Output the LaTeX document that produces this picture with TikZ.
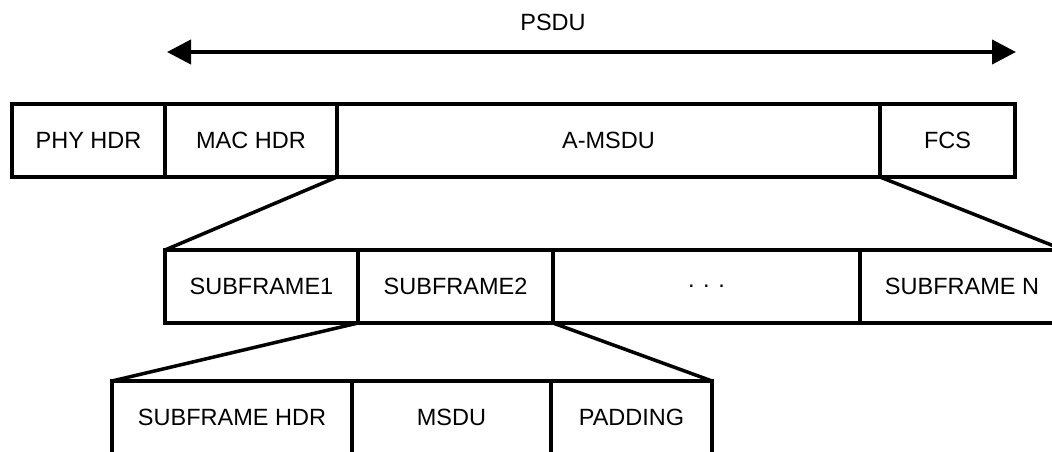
\documentclass[tikz,border=0pt]{standalone}
\usepackage{fontspec}
\setmainfont{Liberation Sans}
\usetikzlibrary{arrows.meta}
\begin{document}
\begin{tikzpicture}[x=1pt,y=-1pt,
  field/.style={draw=black,line width=3.5pt,fill=white,anchor=north west,
    inner sep=0pt,outer sep=0pt,minimum height=73pt,
    font=\fontsize{23.5}{28}\selectfont},
  link/.style={line width=3.5pt,line cap=round},
  span/.style={line width=4pt,{Triangle[length=24pt,width=24pt]}-{Triangle[length=24pt,width=24pt]}}]
\useasboundingbox (0,0) rectangle (1052,451);
\clip (0,0) rectangle (1052,451);

% frame length arrow
\coordinate (psduL) at (167,52);
\coordinate (psduR) at (1016,52);
\draw[span] (psduL) -- (psduR);
\node[font=\fontsize{23.5}{28}\selectfont] (psdu) at (553,22) {PSDU};

% MPDU fields
\node[field,minimum width=153pt] (phy) at (12,104) {PHY HDR};
\node[field,minimum width=172pt] (mac) at (165,104) {MAC HDR};
\node[field,minimum width=543pt] (amsdu) at (337,104) {A-MSDU};
\node[field,minimum width=135pt] (fcs) at (880,104) {FCS};

% A-MSDU subframes
\node[field,minimum width=193pt] (sf1) at (165,250) {SUBFRAME1};
\node[field,minimum width=195pt] (sf2) at (358,250) {SUBFRAME2};
\node[field,minimum width=307pt] (dots) at (553,250) {. . .};
\node[field,minimum width=204pt] (sfn) at (860,250) {SUBFRAME N};

% subframe contents
\node[field,minimum width=240pt] (sfhdr) at (112,381) {SUBFRAME HDR};
\node[field,minimum width=199pt] (msdu) at (352,381) {MSDU};
\node[field,minimum width=161pt] (pad) at (551,381) {PADDING};

% expansion lines
\draw[link] (amsdu.south west) -- (sf1.north west);
\draw[link] (amsdu.south east) -- (sfn.north east);
\draw[link] (sf2.south west) -- (sfhdr.north west);
\draw[link] (sf2.south east) -- (pad.north east);
\end{tikzpicture}
\end{document}
